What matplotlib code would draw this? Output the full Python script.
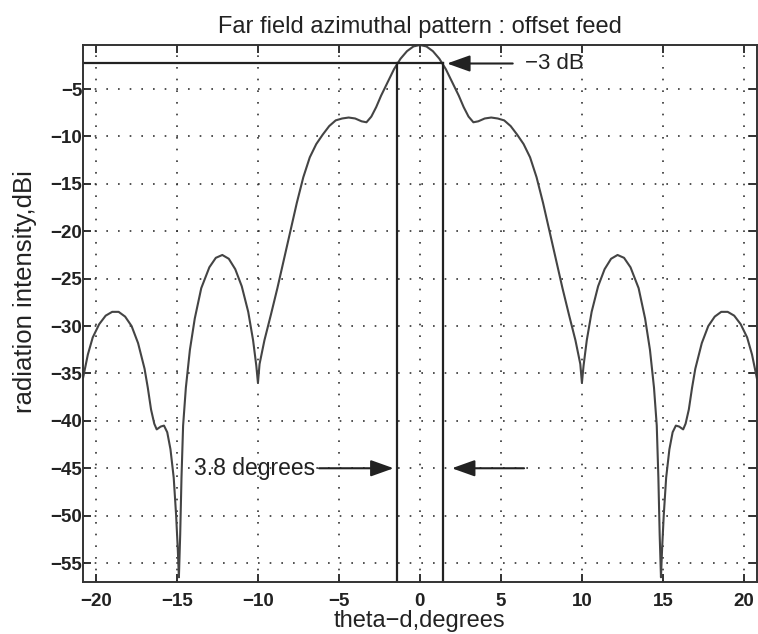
import matplotlib
matplotlib.use("Agg")
import matplotlib.pyplot as plt

# Azimuthal pattern (theta in degrees, level in dBi)
theta_left = [-20.8, -20.5, -20.2, -19.8, -19.4, -19.0, -18.6, -18.2, -17.8, -17.4,
              -17.0, -16.8, -16.6, -16.4, -16.25, -16.0, -15.8, -15.6, -15.4, -15.2,
              -15.05, -14.95, -14.88, -14.8, -14.72, -14.62, -14.45, -14.2, -13.9, -13.5,
              -13.0, -12.6, -12.2, -11.8, -11.4, -11.0, -10.6, -10.3, -10.1, -10.0,
              -9.9, -9.6, -9.2, -8.8, -8.4, -8.0, -7.6, -7.2, -6.8, -6.4,
              -6.0, -5.6, -5.2, -4.8, -4.4, -4.0, -3.6, -3.3, -3.0, -2.7,
              -2.4, -2.0, -1.6, -1.2, -0.8, -0.4, 0.0]
level_left = [-35.5, -33.0, -31.2, -29.8, -28.9, -28.5, -28.5, -29.0, -30.0, -31.8,
              -34.5, -36.5, -38.8, -40.3, -40.9, -40.6, -40.5, -41.2, -43.0, -46.0,
              -50.0, -53.5, -56.5, -52.0, -46.0, -40.5, -36.5, -32.5, -29.2, -26.0,
              -23.8, -22.8, -22.5, -22.9, -24.0, -25.8, -28.5, -31.5, -34.2, -36.0,
              -34.0, -31.5, -28.8, -26.0, -23.0, -20.0, -17.0, -14.3, -12.2, -10.8,
              -9.8, -8.9, -8.3, -8.1, -8.0, -8.1, -8.4, -8.5, -7.9, -6.9,
              -5.7, -4.3, -2.9, -1.8, -1.0, -0.5, -0.35]
theta_right = [0.4, 0.8, 1.2, 1.6, 2.0, 2.4, 2.7, 3.0, 3.3, 3.6,
               4.0, 4.4, 4.8, 5.2, 5.6, 6.0, 6.4, 6.8, 7.2, 7.6,
               8.0, 8.4, 8.8, 9.2, 9.6, 9.9, 10.0, 10.1, 10.3, 10.6,
               11.0, 11.4, 11.8, 12.2, 12.6, 13.0, 13.5, 13.9, 14.2, 14.45,
               14.62, 14.72, 14.8, 14.88, 14.95, 15.05, 15.2, 15.4, 15.6, 15.8,
               16.0, 16.25, 16.4, 16.6, 16.8, 17.0, 17.4, 17.8, 18.2, 18.6,
               19.0, 19.4, 19.8, 20.2, 20.5, 20.8]
level_right = [-0.5, -1.0, -1.8, -2.9, -4.3, -5.7, -6.9, -7.9, -8.5, -8.4,
               -8.1, -8.0, -8.1, -8.3, -8.9, -9.8, -10.8, -12.2, -14.3, -17.0,
               -20.0, -23.0, -26.0, -28.8, -31.5, -34.0, -36.0, -34.2, -31.5, -28.5,
               -25.8, -24.0, -22.9, -22.5, -22.8, -23.8, -26.0, -29.2, -32.5, -36.5,
               -40.5, -46.0, -52.0, -56.5, -53.5, -50.0, -46.0, -43.0, -41.2, -40.5,
               -40.6, -40.9, -40.3, -38.8, -36.5, -34.5, -31.8, -30.0, -29.0, -28.5,
               -28.5, -28.9, -29.8, -31.2, -33.0, -35.5]

theta = theta_left + theta_right
level = level_left + level_right

# -3 dB beamwidth markers
half_power_level = -2.3
beam_edges = [-1.42, 1.42]

plt.rcParams["font.family"] = ["Liberation Sans", "DejaVu Sans"]

fig = plt.figure(figsize=(7.58, 6.34), dpi=100)
ax = fig.add_axes([0.1095, 0.082, 0.889, 0.847])

ax.plot(theta, level, color="#444444", linewidth=1.5)

# horizontal -3 dB line and the two vertical beam edges
ax.plot([-20.8, beam_edges[1]], [half_power_level, half_power_level], color="#222222", linewidth=1.6)
for xe in beam_edges:
    ax.plot([xe, xe], [-57.0, half_power_level], color="#222222", linewidth=1.6)

arrow = dict(arrowstyle="-|>,head_length=0.7,head_width=0.25", color="#222222", lw=1.5, mutation_scale=20)
ax.annotate("", xy=(1.5, half_power_level), xytext=(5.9, half_power_level), arrowprops=arrow)
ax.text(6.5, half_power_level, "\u22123 dB", fontsize=16, va="center", ha="left", color="#222222")

ax.annotate("", xy=(-1.45, -45), xytext=(-6.4, -45), arrowprops=arrow)
ax.text(-6.45, -45, "3.8 degrees", fontsize=16.5, va="center", ha="right", color="#222222")
ax.annotate("", xy=(1.8, -45), xytext=(6.6, -45), arrowprops=arrow)

ax.set_xlim(-20.8, 20.8)
ax.set_ylim(-57.0, -0.35)
ax.set_xticks([-20, -15, -10, -5, 0, 5, 10, 15, 20])
ax.set_yticks([-55, -50, -45, -40, -35, -30, -25, -20, -15, -10, -5])

ax.grid(True, linestyle=(0, (1, 6)), color="#333333", linewidth=1.2)
ax.tick_params(direction="in", top=True, right=True, length=6, width=1.3,
               labelsize=13.5, colors="#222222")
ax.tick_params(axis="y", pad=0.5)
ax.tick_params(axis="x", pad=8)
for lab in ax.get_xticklabels() + ax.get_yticklabels():
    lab.set_fontweight("bold")
for s in ax.spines.values():
    s.set_linewidth(1.4)
    s.set_color("#333333")

ax.set_title("Far field azimuthal pattern : offset feed", fontsize=17, color="#222222", pad=9)
ax.set_xlabel("theta\u2212d,degrees", fontsize=17, color="#222222", labelpad=0)
ax.set_ylabel("radiation intensity,dBi", fontsize=18.5, color="#222222")
ax.yaxis.set_label_coords(-0.068, 0.54)

fig.savefig("out.png", dpi=100)
